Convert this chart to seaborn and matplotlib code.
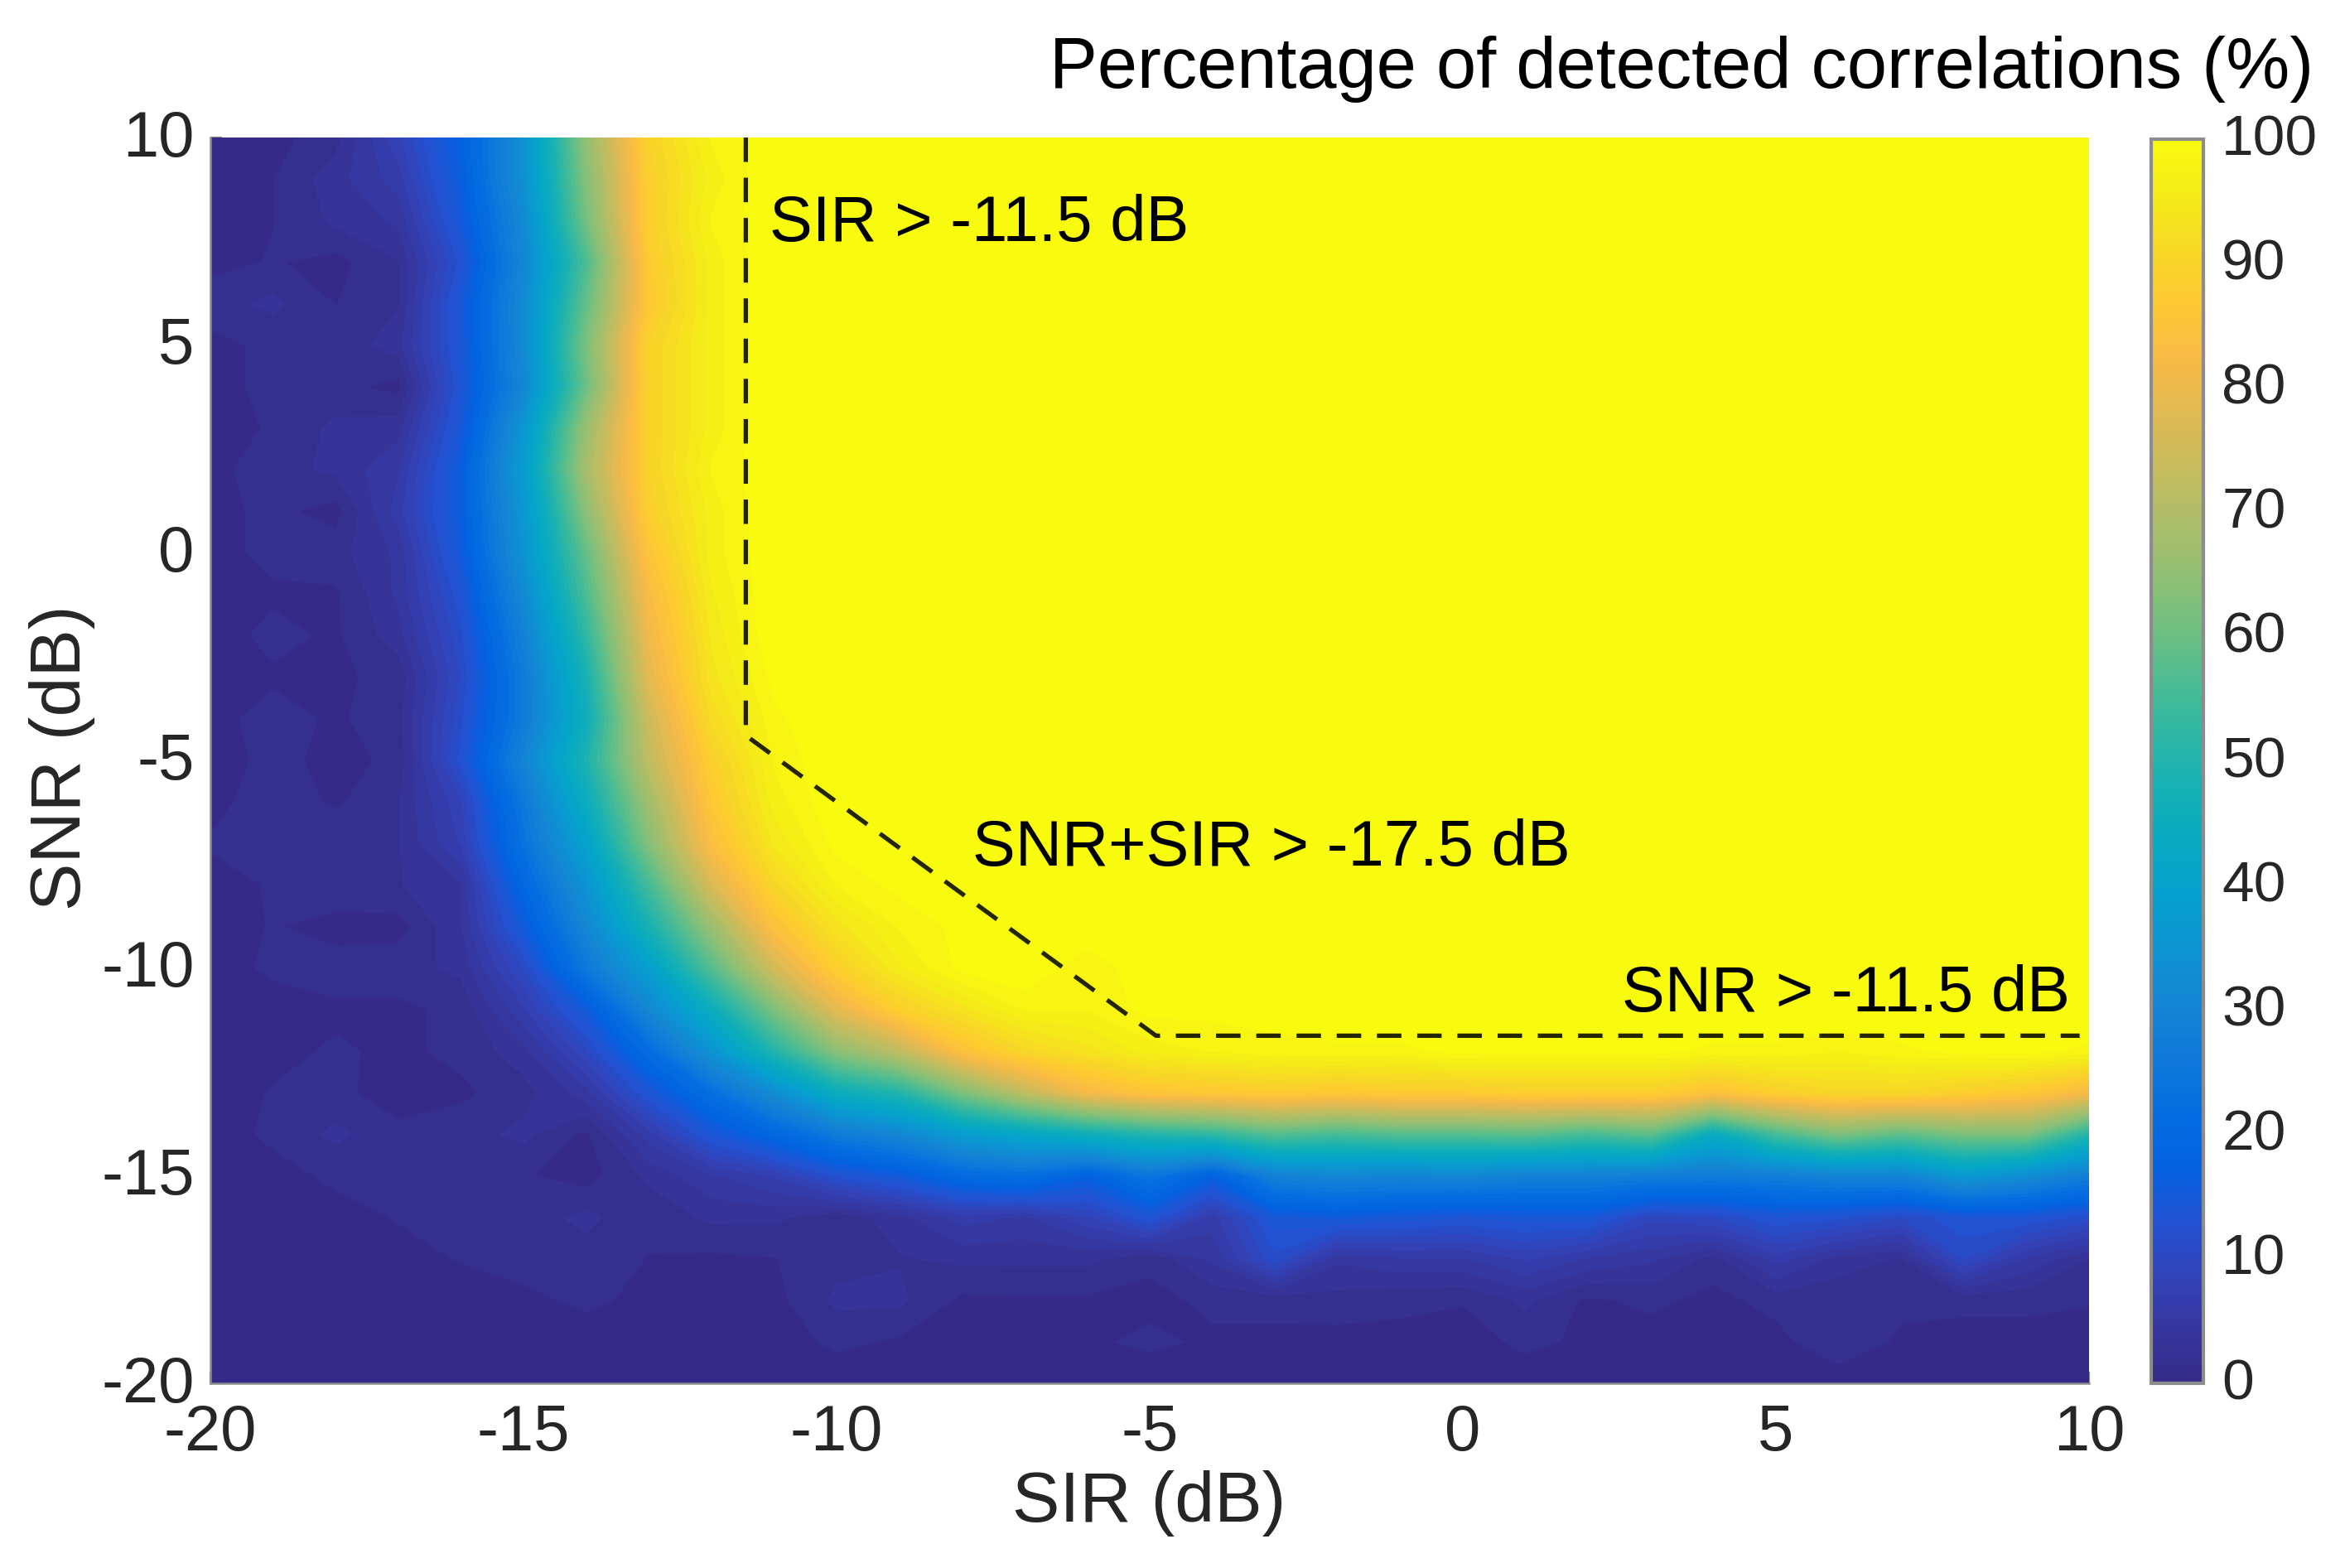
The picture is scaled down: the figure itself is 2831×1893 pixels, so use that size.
import numpy as np
import pandas as pd
import matplotlib
matplotlib.use("Agg")
import matplotlib.pyplot as plt
from matplotlib.transforms import ScaledTranslation
import seaborn as sns

sir_db = list(range(-20, 11))
snr_db = list(range(10, -21, -1))

# percentage of detected correlations, one row per SNR (10 dB at the top), one column per SIR (-20 dB on the left)
detected = [
    [0.5, 1, 2.5, 9, 18, 34, 65, 89, 97, 100, 100, 100, 100, 100, 100, 100, 100, 100, 100, 100, 100, 100, 100, 100, 100, 100, 100, 100, 100, 100, 100],
    [0.5, 1.5, 4, 7, 17, 34, 63, 88, 96, 100, 100, 100, 100, 100, 100, 100, 100, 100, 100, 100, 100, 100, 100, 100, 100, 100, 100, 100, 100, 100, 100],
    [0.5, 1.5, 3.5, 5, 15.5, 32, 61, 88, 97, 100, 100, 100, 100, 100, 100, 100, 100, 100, 100, 100, 100, 100, 100, 100, 100, 100, 100, 100, 100, 100, 100],
    [1, 1.7, 1, 3, 13, 31, 56, 87, 96, 100, 100, 100, 100, 100, 100, 100, 100, 100, 100, 100, 100, 100, 100, 100, 100, 100, 100, 100, 100, 100, 100],
    [2.5, 3.5, 1.5, 3, 15, 32, 59, 86, 96, 100, 100, 100, 100, 100, 100, 100, 100, 100, 100, 100, 100, 100, 100, 100, 100, 100, 100, 100, 100, 100, 100],
    [1, 2, 2, 4, 14.5, 32, 62, 89, 96, 100, 100, 100, 100, 100, 100, 100, 100, 100, 100, 100, 100, 100, 100, 100, 100, 100, 100, 100, 100, 100, 100],
    [1, 2, 2, 1, 14, 31, 60, 89, 96, 100, 100, 100, 100, 100, 100, 100, 100, 100, 100, 100, 100, 100, 100, 100, 100, 100, 100, 100, 100, 100, 100],
    [1, 1.7, 3.5, 4, 15, 36, 66, 89, 96, 100, 100, 100, 100, 100, 100, 100, 100, 100, 100, 100, 100, 100, 100, 100, 100, 100, 100, 100, 100, 100, 100],
    [1, 2.5, 3.5, 6, 17, 38, 68, 89, 97, 100, 100, 100, 100, 100, 100, 100, 100, 100, 100, 100, 100, 100, 100, 100, 100, 100, 100, 100, 100, 100, 100],
    [1, 2, 0.9, 7, 17, 36, 64, 88, 96, 100, 100, 100, 100, 100, 100, 100, 100, 100, 100, 100, 100, 100, 100, 100, 100, 100, 100, 100, 100, 100, 100],
    [1, 2, 2.5, 5, 16, 35, 59, 85, 96, 100, 100, 100, 100, 100, 100, 100, 100, 100, 100, 100, 100, 100, 100, 100, 100, 100, 100, 100, 100, 100, 100],
    [0.8, 1.3, 1.3, 5, 13.5, 32, 56, 82, 95, 100, 100, 100, 100, 100, 100, 100, 100, 100, 100, 100, 100, 100, 100, 100, 100, 100, 100, 100, 100, 100, 100],
    [0.8, 2, 1.3, 4, 12, 29, 52, 80, 94, 100, 100, 100, 100, 100, 100, 100, 100, 100, 100, 100, 100, 100, 100, 100, 100, 100, 100, 100, 100, 100, 100],
    [0.5, 1.3, 1.3, 2, 11, 27, 48, 78, 93, 99, 100, 100, 100, 100, 100, 100, 100, 100, 100, 100, 100, 100, 100, 100, 100, 100, 100, 100, 100, 100, 100],
    [1, 2.2, 1.3, 2.5, 12, 27, 46, 74, 91, 98, 100, 100, 100, 100, 100, 100, 100, 100, 100, 100, 100, 100, 100, 100, 100, 100, 100, 100, 100, 100, 100],
    [0.5, 2.2, 0.9, 2, 13, 30, 49, 72, 88, 97, 100, 100, 100, 100, 100, 100, 100, 100, 100, 100, 100, 100, 100, 100, 100, 100, 100, 100, 100, 100, 100],
    [1, 2.5, 1.3, 3, 9, 26, 45, 67, 86, 96, 100, 100, 100, 100, 100, 100, 100, 100, 100, 100, 100, 100, 100, 100, 100, 100, 100, 100, 100, 100, 100],
    [1.7, 2, 3, 3, 8, 24, 40, 63, 83, 94, 99, 100, 100, 100, 100, 100, 100, 100, 100, 100, 100, 100, 100, 100, 100, 100, 100, 100, 100, 100, 100],
    [1, 1.7, 3, 3, 4.5, 20, 35, 55, 76, 90, 97, 99, 100, 100, 100, 100, 100, 100, 100, 100, 100, 100, 100, 100, 100, 100, 100, 100, 100, 100, 100],
    [0.5, 1.7, 0.7, 0.9, 4.5, 16, 31, 48, 66, 84, 93, 97, 99, 100, 100, 100, 100, 100, 100, 100, 100, 100, 100, 100, 100, 100, 100, 100, 100, 100, 100],
    [0.5, 2, 2.5, 2.5, 3.5, 11, 26, 39, 57, 75, 88, 95, 99, 100, 97, 100, 100, 100, 100, 100, 100, 100, 100, 100, 100, 100, 100, 100, 100, 100, 100],
    [0.5, 0.5, 1.2, 1.2, 2, 7.5, 16, 31, 45, 62, 78, 88, 93, 97, 97, 99, 99, 99, 100, 100, 100, 100, 100, 100, 100, 100, 100, 100, 100, 100, 100],
    [0.5, 1, 1.8, 1.2, 2, 4, 10.5, 22, 35, 50, 64, 72, 84, 90, 93, 96, 97, 98, 98, 98, 99, 99, 99, 99, 98, 98, 97, 98, 99, 99, 98],
    [0.5, 1.7, 2, 0.7, 1.2, 2.5, 5.5, 14, 23, 33, 45, 50, 62, 72, 81, 85, 86, 87, 86, 87, 87, 88, 88, 88, 84, 88, 90, 90, 88, 86, 81],
    [0.5, 2, 3.5, 2, 2.5, 3.5, 1.2, 7, 14.5, 20, 27, 31, 38, 42, 46, 50, 52, 57, 55, 57, 57, 58, 55, 58, 44, 55, 62, 58, 62, 62, 50],
    [0.3, 0.8, 2, 2, 1.7, 1.7, 0.8, 3.5, 6, 8, 13, 16, 21, 23, 18, 25, 18, 29, 31, 30, 31, 29, 29, 28, 27, 28, 30, 30, 37, 33, 28],
    [0.3, 0.3, 0.8, 1.7, 2.5, 2.5, 3.5, 2, 3.5, 3.5, 2, 4, 7, 6, 9, 14, 7, 15, 16, 15, 14, 15, 15, 10, 11, 14, 13, 11, 14, 14, 12],
    [0.3, 0.3, 0.3, 0.8, 1.7, 2.5, 2.5, 1.5, 1.2, 1.5, 2.5, 3, 3.5, 3.5, 3.5, 2, 5, 12, 5, 6, 6, 8, 6, 5, 2.5, 7, 4, 3, 11, 6, 3],
    [0.3, 0.3, 0.3, 0.3, 0.4, 1, 2, 1, 1, 1, 3.5, 3.5, 1.2, 1.3, 1.3, 1, 2, 2, 2.5, 2, 1.7, 3.5, 1.2, 2, 1, 2.2, 2, 2, 2, 2, 1.7],
    [0.2, 0.2, 0.2, 0.2, 0.2, 0.2, 0.4, 0.4, 0.6, 0.6, 2, 1.3, 1, 1, 1.2, 2, 1.2, 1.2, 0.9, 1, 0.7, 2, 1.2, 0.7, 0.7, 0.9, 3, 1.2, 0.9, 0.9, 0.8],
    [0.2, 0.2, 0.2, 0.2, 0.2, 0.2, 0.2, 0.2, 0.2, 0.3, 0.3, 0.3, 0.3, 0.3, 0.3, 0.3, 0.3, 0.4, 0.4, 0.2, 0.5, 0.4, 0.3, 0.3, 0.3, 0.3, 0.3, 0.3, 0.3, 0.3, 0.3],
]

x_ticks = [-20, -15, -10, -5, 0, 5, 10]
y_ticks = [10, 5, 0, -5, -10, -15, -20]
cbar_ticks = [0, 10, 20, 30, 40, 50, 60, 70, 80, 90, 100]

# dashed boundary
bound_sir = [-11.45, -11.45, -4.9, 9.85]
bound_snr = [10, -4.4, -11.63, -11.63]

parula = [
    (0.2081, 0.1663, 0.5292), (0.2123, 0.2138, 0.6270), (0.1959, 0.2645, 0.7279),
    (0.1253, 0.3242, 0.8303), (0.0117, 0.3875, 0.8820), (0.0165, 0.4266, 0.8786),
    (0.0629, 0.4737, 0.8554), (0.0793, 0.5200, 0.8312), (0.0488, 0.5772, 0.8228),
    (0.0239, 0.6287, 0.8038), (0.0267, 0.6642, 0.7607), (0.0843, 0.6928, 0.7062),
    (0.1801, 0.7177, 0.6424), (0.3022, 0.7376, 0.5712), (0.4420, 0.7481, 0.5033),
    (0.5709, 0.7485, 0.4494), (0.6834, 0.7435, 0.4044), (0.7858, 0.7356, 0.3633),
    (0.8824, 0.7274, 0.3217), (0.9739, 0.7314, 0.2666), (0.9955, 0.7861, 0.1967),
    (0.9697, 0.8481, 0.1475), (0.9598, 0.9218, 0.0948), (0.9763, 0.9831, 0.0538),
]

sns.set_theme(style="white")
plt.rcParams['font.family'] = ['Liberation Sans', 'DejaVu Sans']
plt.rcParams['axes.unicode_minus'] = False

W, H = 2831, 1893
TEXT = "#262626"
EDGE = "#8c8c8c"


def to_x(sir):
    return sir - sir_db[0]


def to_y(snr):
    return snr_db[0] - snr


fig = plt.figure(figsize=(W / 200, H / 200), dpi=200)
ax = fig.add_axes([254 / W, 1 - 1670 / H, (2522 - 254) / W, (1670 - 166) / H])
cax = fig.add_axes([2597 / W, 1 - 1670 / H, (2660 - 2597) / W, (1670 - 168) / H])

df = pd.DataFrame(detected, index=snr_db, columns=sir_db)
cmap = sns.blend_palette(parula, n_colors=64, as_cmap=True)
sns.heatmap(df, ax=ax, cbar_ax=cax, cmap=cmap, vmin=0, vmax=100, shading="gouraud",
            xticklabels=False, yticklabels=False, linewidths=0,
            cbar_kws={"ticks": cbar_ticks})

# filled contours on top give the faceted bands of the original, the mesh under them hides the seams
ax.contourf(np.arange(len(sir_db)), np.arange(len(snr_db)), df.values,
            levels=np.linspace(0, 100, 65), colors=[cmap(i / 63) for i in range(64)])

ax.set_xlim(0, len(sir_db) - 1)
ax.set_ylim(len(snr_db) - 1, 0)
ax.set_xticks([to_x(v) for v in x_ticks])
ax.set_xticklabels([str(v) for v in x_ticks])
ax.set_yticks([to_y(v) for v in y_ticks])
ax.set_yticklabels([str(v) for v in y_ticks])
ax.set_axisbelow(True)
ax.tick_params(axis="both", direction="in", length=5, width=0.8, color=EDGE,
               labelsize=28, labelcolor=TEXT, bottom=True, left=True)
ax.tick_params(axis="x", pad=8.5)
ax.tick_params(axis="y", pad=7)
for side, spine in ax.spines.items():
    spine.set_visible(side in ("left", "bottom"))
    spine.set_color(EDGE)
    spine.set_linewidth(0.9)

ax.plot([to_x(v) for v in bound_sir], [to_y(v) for v in bound_snr], color="black",
        alpha=0.85, linewidth=1.9, dashes=(5.6, 3.6), clip_on=False)

ax.text(to_x(-11.07), to_y(7.92), "SIR > -11.5 dB", fontsize=28, color="black", va="center", ha="left")
ax.text(to_x(-7.83), to_y(-7.13), "SNR+SIR > -17.5 dB", fontsize=28, color="black", va="center", ha="left")
ax.text(to_x(9.7), to_y(-10.64), "SNR > -11.5 dB", fontsize=28, color="black", va="center", ha="right")

fig.text(1387 / W, 1 - 1815 / H, "SIR (dB)", fontsize=31, color=TEXT, ha="center", va="center")
fig.text(75 / W, 1 - 915 / H, "SNR (dB)", fontsize=31, color=TEXT, ha="center", va="center", rotation=90)
fig.text(2793 / W, 1 - 83 / H, "Percentage of detected correlations (%)", fontsize=31.2,
         color="black", ha="right", va="center")

cbar = ax.collections[0].colorbar
cbar.outline.set_visible(True)
cbar.outline.set_edgecolor(EDGE)
cbar.outline.set_linewidth(1.5)
cax.tick_params(direction="in", length=5, width=0.8, color="#404040", labelsize=25,
                labelcolor=TEXT, pad=8, right=True)

# the original's vertical tick labels sit a little above their ticks
shift_up = ScaledTranslation(0, 6 / 200, fig.dpi_scale_trans)
for label in ax.get_yticklabels() + cax.get_yticklabels():
    label.set_transform(label.get_transform() + shift_up)

fig.savefig("out.png", dpi=200)
